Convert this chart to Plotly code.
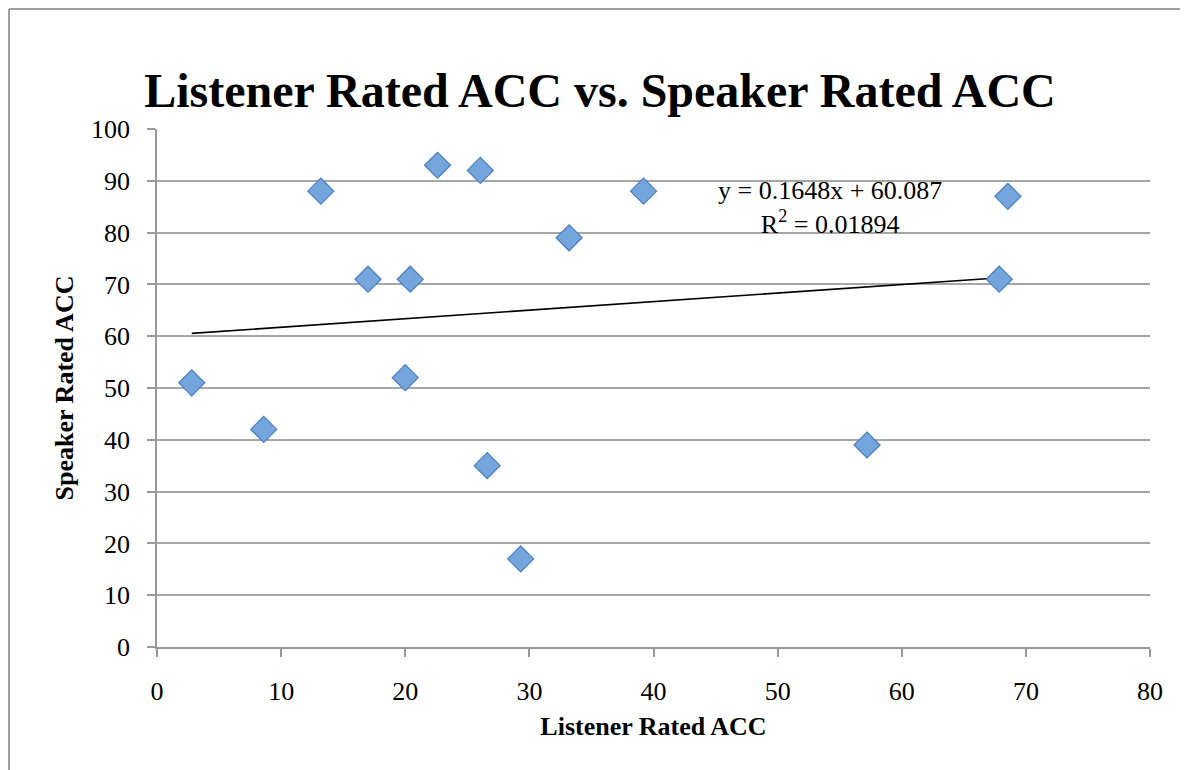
import plotly.graph_objects as go

# Data
listener_acc = [2.8, 8.6, 13.2, 17.0, 20.0, 20.4, 22.6, 26.05, 26.6, 29.3, 33.2, 39.2, 57.2, 67.85, 68.55]
speaker_acc = [51, 42, 88, 71, 52, 71, 93, 92, 35, 17, 79, 88, 39, 71, 87]
slope = 0.1648
intercept = 60.087
r_squared = 0.01894
x_ticks = [0, 10, 20, 30, 40, 50, 60, 70, 80]
y_ticks = [0, 10, 20, 30, 40, 50, 60, 70, 80, 90, 100]

FONT = "Liberation Serif"
W, H = 1180, 762
L, T = 149, 121
PW, PH = 993, 518
R = W - L - PW
B = H - T - PH

xmin, xmax = min(listener_acc), max(listener_acc)
trend_x = [xmin, xmax]
trend_y = [slope * v + intercept for v in trend_x]

fig = go.Figure()
fig.add_trace(go.Scatter(
    x=trend_x, y=trend_y, mode="lines",
    line=dict(color="black", width=1.6), showlegend=False, hoverinfo="skip"))
fig.add_trace(go.Scatter(
    x=listener_acc, y=speaker_acc, mode="markers",
    marker=dict(symbol="diamond", size=20, color="#74A5DD",
                line=dict(color="#4A7EBB", width=1.2)),
    showlegend=False))

fig.add_annotation(
    x=54.2, y=84.9, xref="x", yref="y",
    text=f"y = {slope}x + {intercept}<br>R<sup>2</sup> = {r_squared}",
    showarrow=False, align="center",
    font=dict(family=FONT, size=26, color="black"))

def px(xpix):
    return (xpix - L) / PW
def py(ypix):
    return (H - B - ypix) / PH

# outer border (left and top)
fig.add_shape(type="line", xref="paper", yref="paper",
              x0=px(1), x1=px(1), y0=py(1), y1=py(H + 5),
              line=dict(color="#A0A0A0", width=2))
fig.add_shape(type="line", xref="paper", yref="paper",
              x0=px(1), x1=px(W + 5), y0=py(1), y1=py(1),
              line=dict(color="#A0A0A0", width=2))

axis_common = dict(
    showline=True, linecolor="#999999", linewidth=1.5,
    ticks="outside", tickcolor="#999999", ticklen=8, tickwidth=1.5,
    tickfont=dict(family=FONT, size=26, color="black"),
    zeroline=False,
)
fig.update_xaxes(
    range=[0, 80], tickvals=x_ticks, showgrid=False, ticklabelstandoff=12,
    title=dict(text="<b>Listener Rated ACC</b>", font=dict(family=FONT, size=26, color="black"), standoff=12),
    **axis_common)
fig.update_yaxes(
    range=[0, 100], tickvals=y_ticks, showgrid=True, gridcolor="#A6A6A6", gridwidth=1.5,
    ticklabelstandoff=12,
    title=dict(text="<b>Speaker Rated ACC</b>", font=dict(family=FONT, size=26, color="black"), standoff=10),
    **axis_common)

fig.update_layout(
    width=W, height=H,
    margin=dict(l=L, r=R, t=T, b=B, autoexpand=False),
    paper_bgcolor="white", plot_bgcolor="white",
    title=dict(text="<b>Listener Rated ACC vs. Speaker Rated ACC</b>",
               x=592 / W, xanchor="center", y=1 - 82 / H, yanchor="middle",
               font=dict(family=FONT, size=48, color="black")),
)

fig.write_html("out.html")
